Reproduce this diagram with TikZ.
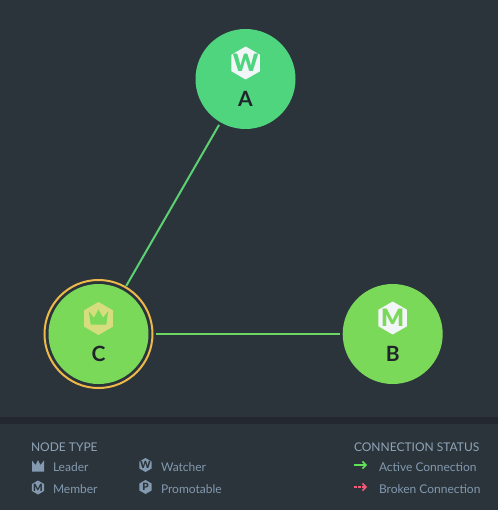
\documentclass[tikz,border=0pt]{standalone}
\usepackage{fontspec}
\setmainfont{Lato}
\newfontfamily\iconfont{Lato Black}
\usetikzlibrary{shapes.geometric,arrows.meta}
\definecolor{bgc}{HTML}{2C343B}
\definecolor{bandc}{HTML}{23282E}
\definecolor{greenA}{HTML}{50D57F}
\definecolor{greenB}{HTML}{7BD95A}
\definecolor{linkA}{HTML}{5CD172}
\definecolor{linkB}{HTML}{6CD662}
\definecolor{ringc}{HTML}{EDB94A}
\definecolor{hexc}{HTML}{D6DD7E}
\definecolor{whitec}{HTML}{F3F6F9}
\definecolor{legc}{HTML}{8299AF}
\definecolor{darkc}{HTML}{1F252B}
\definecolor{redc}{HTML}{EF5B78}
\definecolor{activec}{HTML}{62E05A}
\tikzset{
  x=1pt,y=-1pt,
  every node/.style={inner sep=0pt,outer sep=0pt},
  clusternode/.style={circle,minimum size=100pt},
  nodename/.style={text=darkc,font=\fontsize{21}{21}\bfseries},
  bighex/.style={regular polygon,regular polygon sides=6,shape border rotate=30,minimum size=33pt,fill=#1},
  smallhex/.style={regular polygon,regular polygon sides=6,shape border rotate=30,minimum size=14pt,fill=legc},
  biglet/.style={font=\fontsize{24}{24}\iconfont},
  smalllet/.style={text=bgc,font=\fontsize{10}{10}\iconfont},
  legtext/.style={anchor=west,text=legc,font=\fontsize{12}{12}\selectfont},
  legtitle/.style={anchor=west,text=legc!90!white,font=\fontsize{12}{12}\selectfont},
  link/.style={line width=2pt},
}
\begin{document}
\begin{tikzpicture}
\useasboundingbox (0,0) rectangle (498,510);
\fill[bgc] (0,0) rectangle (498,510);
\fill[bandc] (0,417) rectangle (498,424);
% nodes
\node[clusternode,fill=greenA] (A) at (245.5,79) {};
\node[clusternode,fill=greenB] (B) at (392.7,334) {};
\node[clusternode,fill=greenB] (C) at (98.5,334) {};
\node[circle,draw=ringc,line width=2pt,minimum size=108pt] (ring) at (C) {};
% connectors
\draw[link,color=linkA,shorten >=1.5pt,shorten <=3pt] (A) -- (ring);
\draw[link,color=linkB,shorten >=3pt,shorten <=3pt] (ring) -- (B);
% icons
\node[bighex=whitec] (iconA) at (245.7,63) {};
\node[biglet,text=greenA] (letA) at (245.7,63) {W};
\node[bighex=whitec] (iconB) at (392.7,318) {};
\node[biglet,text=greenB] (letB) at (392.7,318) {M};
\node[bighex=hexc] (iconC) at (98.5,318.5) {};
\fill[greenB] (88.8,311.2) -- (94,317.7) -- (98.5,309.5) -- (103,317.7) -- (108.2,311.2) -- (106.3,324.5) -- (90.7,324.5) -- cycle;
% labels
\node[nodename] (la) at (245.5,99.3) {A};
\node[nodename] (lb) at (392.7,353.7) {B};
\node[nodename] (lc) at (98.5,353.7) {C};
% legend
\node[legtitle] (t1) at (31,447) {NODE TYPE};
\node[legtitle] (t2) at (354,447) {CONNECTION STATUS};
\fill[legc] (32,460.5) -- (35.5,465) -- (38,460) -- (40.5,465) -- (44,460.5) -- (44,471.5) -- (32,471.5) -- cycle;
\node[smallhex] (im) at (38,487.5) {};
\node[smalllet] (lm) at (38,487.5) {M};
\node[smallhex] (iw) at (145.5,465) {};
\node[smalllet] (lw) at (145.5,465) {W};
\node[smallhex] (ip) at (145.5,487) {};
\node[smalllet] (lp) at (145.5,487) {P};
\node[legtext] (l1) at (53,467) {Leader};
\node[legtext] (l2) at (53,489) {Member};
\node[legtext] (l3) at (161,467) {Watcher};
\node[legtext] (l4) at (161,489) {Promotable};
\node[legtext] (l5) at (379,467) {Active Connection};
\node[legtext] (l6) at (379,489) {Broken Connection};
\coordinate (a1) at (354,465);
\coordinate (a2) at (367,465);
\coordinate (b1) at (354,487);
\coordinate (b2) at (367,487);
\draw[activec,line width=1.5pt,-{Straight Barb[length=3.5pt,width=7pt]}] (a1) -- (a2);
\draw[redc,line width=1.5pt,dash pattern=on 2.5pt off 1.5pt,-{Straight Barb[length=3.5pt,width=7pt]}] (b1) -- (b2);
\end{tikzpicture}
\end{document}
